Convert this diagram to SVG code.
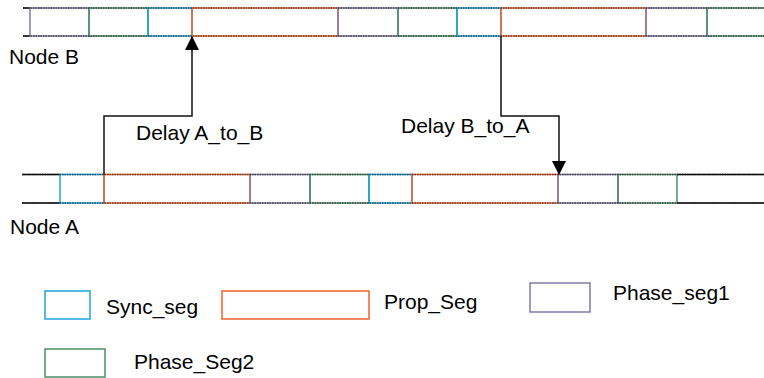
<svg xmlns="http://www.w3.org/2000/svg" width="764" height="378" viewBox="0 0 764 378">
  <style>
    text { font-family: "Liberation Sans", Arial, sans-serif; font-size: 21px; fill: #000; }
    .seg { fill: none; stroke-width: 1.5; }
    .sync { stroke: #1ea4e0; }
    .prop { stroke: #f5602a; }
    .ph1 { stroke: #8479a8; }
    .ph2 { stroke: #4a8f64; }
    .rail { stroke: #000; stroke-width: 1.5; }
    .grain { stroke: #222; stroke-width: 1.5; stroke-dasharray: 1.5 1; opacity: 0.7; }
    .wire { fill: none; stroke: #111; stroke-width: 1.5; }
  </style>
  <defs>
    <marker id="head" viewBox="0 0 14 14" refX="13" refY="7" markerWidth="14" markerHeight="14" markerUnits="userSpaceOnUse" orient="auto">
      <path d="M0,0 L14,7 L0,14 Z" fill="#000"/>
    </marker>
  </defs>

  <!-- Node B bit timeline -->
  <g id="nodeB">
    <line class="rail" x1="23" y1="8" x2="30" y2="8"/>
    <line class="rail" x1="23" y1="36" x2="30" y2="36"/>
    <rect class="seg ph1" x="30" y="8" width="59" height="28"/>
    <rect class="seg ph2" x="89" y="8" width="59" height="28"/>
    <rect class="seg sync" x="148" y="8" width="44" height="28"/>
    <rect class="seg prop" x="192" y="8" width="146" height="28"/>
    <rect class="seg ph1" x="338" y="8" width="60" height="28"/>
    <rect class="seg ph2" x="398" y="8" width="59" height="28"/>
    <rect class="seg sync" x="457" y="8" width="44" height="28"/>
    <rect class="seg prop" x="501" y="8" width="145" height="28"/>
    <rect class="seg ph1" x="646" y="8" width="61" height="28"/>
    <rect class="seg ph2" x="707" y="8" width="70" height="28"/>
    <line class="grain" x1="23" y1="8" x2="764" y2="8"/>
    <line class="grain" x1="23" y1="36" x2="764" y2="36"/>
    <text x="9" y="64">Node B</text>
  </g>

  <!-- Node A bit timeline -->
  <g id="nodeA">
    <line class="rail" x1="22" y1="174.5" x2="60" y2="174.5"/>
    <line class="rail" x1="22" y1="203" x2="60" y2="203"/>
    <rect class="seg sync" x="60" y="174.5" width="44" height="28.5"/>
    <rect class="seg prop" x="104" y="174.5" width="146" height="28.5"/>
    <rect class="seg ph1" x="250" y="174.5" width="60" height="28.5"/>
    <rect class="seg ph2" x="310" y="174.5" width="59" height="28.5"/>
    <rect class="seg sync" x="369" y="174.5" width="43" height="28.5"/>
    <rect class="seg prop" x="412" y="174.5" width="146" height="28.5"/>
    <rect class="seg ph1" x="558" y="174.5" width="60" height="28.5"/>
    <rect class="seg ph2" x="618" y="174.5" width="59" height="28.5"/>
    <line class="rail" x1="677" y1="174.5" x2="764" y2="174.5"/>
    <line class="rail" x1="677" y1="203" x2="764" y2="203"/>
    <line class="grain" x1="22" y1="174.5" x2="764" y2="174.5"/>
    <line class="grain" x1="22" y1="203" x2="764" y2="203"/>
    <text x="10" y="234">Node A</text>
  </g>

  <!-- Propagation delays between the nodes -->
  <g id="connectors">
    <polyline class="wire" points="104,174.5 104,116 192,116 192,37" marker-end="url(#head)"/>
    <polyline class="wire" points="501,36 501,116 559,116 559,174" marker-end="url(#head)"/>
  </g>
  <text x="136" y="140">Delay A_to_B</text>
  <text x="401" y="133">Delay B_to_A</text>

  <!-- Legend -->
  <g id="legend-sync">
    <rect class="seg sync" x="45" y="291" width="45" height="28"/>
    <text x="106" y="314">Sync_seg</text>
  </g>
  <g id="legend-prop">
    <rect class="seg prop" x="222" y="291" width="147" height="28"/>
    <text x="384" y="309">Prop_Seg</text>
  </g>
  <g id="legend-phase1">
    <rect class="seg ph1" x="530" y="283" width="60" height="29"/>
    <text x="613" y="300">Phase_seg1</text>
  </g>
  <g id="legend-phase2">
    <rect class="seg ph2" x="45" y="349" width="60" height="28"/>
    <text x="134" y="369">Phase_Seg2</text>
  </g>
</svg>
